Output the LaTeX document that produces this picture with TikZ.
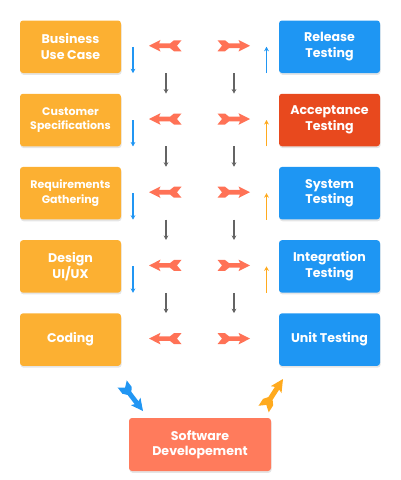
\documentclass[tikz,border=0pt]{standalone}
\usepackage{fontspec}
\setmainfont{Poppins}
\usetikzlibrary{arrows.meta,shadows}
\definecolor{cOrange}{RGB}{252,176,50}
\definecolor{cBlue}{RGB}{30,150,243}
\definecolor{cAccept}{RGB}{232,73,30}
\definecolor{cSoft}{RGB}{255,123,92}
\definecolor{cChev}{RGB}{255,114,86}
\definecolor{cSmallBlue}{RGB}{33,150,243}
\definecolor{cSmallOrange}{RGB}{255,170,30}
\definecolor{cGray}{RGB}{100,100,100}
\begin{document}
\begin{tikzpicture}[x=1pt,y=-1pt,
  box/.style={rounded corners=3pt, minimum width=101pt, minimum height=52.5pt,
    text=white, align=center, inner sep=2pt,
    font=\bfseries\fontsize{12.6}{15.5}\selectfont,
    drop shadow={shadow xshift=0.6pt, shadow yshift=-1.8pt, opacity=0.10, fill=black}},
  lbox/.style={box, fill=cOrange},
  rbox/.style={box, fill=cBlue},
  smallfont/.style={font=\bfseries\fontsize{11}{14.5}\selectfont},
  vbar/.style={line width=1.25pt, -{Stealth[length=4.5pt,width=4.8pt]}},
  grayarrow/.style={vbar, draw=cGray},
  pics/chev/.style={code={
    \fill[pic actions] (0,0) -- (11.5,5.8) -- (10,2.3) -- (21,2.3) -- (25,5.5)
      -- (32.5,5.5) -- (28,0) -- (32.5,-5.5) -- (25,-5.5) -- (21,-2.3)
      -- (10,-2.3) -- (11.5,-5.8) -- cycle;}}
]
\useasboundingbox (0,0) rectangle (400,480);

% left column
\node[lbox] (l1) at (70.5,46.75) {Business\\Use Case};
\node[lbox,smallfont] (l2) at (70.5,120) {Customer\\Specifications};
\node[lbox,smallfont] (l3) at (70.5,193.2) {Requirements\\Gathering};
\node[lbox] (l4) at (70.5,266.4) {Design\\UI/UX};
\node[lbox] (l5) at (70.5,339.6) {Coding};

% right column
\node[rbox] (r1) at (329.5,46.75) {Release\\Testing};
\node[box,fill=cAccept] (r2) at (329.5,120) {Acceptance\\Testing};
\node[rbox] (r3) at (329.5,193.2) {System\\Testing};
\node[rbox] (r4) at (329.5,266.4) {Integration\\Testing};
\node[rbox] (r5) at (329.5,339.6) {Unit Testing};

% bottom
\node[box,fill=cSoft,minimum width=142pt,minimum height=53pt] (sd) at (200,444.5) {Software\\Developement};

% small side arrows
\coordinate (xl) at (133,0);
\coordinate (xr) at (266.5,0);
\foreach \i in {1,2,3,4}{
  \coordinate (lt\i) at (xl |- l\i.center);
  \draw[vbar,draw=cSmallBlue] (lt\i) -- (xl |- l\i.south);
  \coordinate (rt\i) at (xr |- r\i.center);
}
\draw[vbar,draw=cSmallBlue] (xr |- r1.south) -- (rt1);
\foreach \i in {2,3,4}{
  \draw[vbar,draw=cSmallOrange] (xr |- r\i.south) -- (rt\i);
}

% gray arrows between rows
\coordinate (gl) at (166,0);
\coordinate (gr) at (234,0);
\foreach \i/\j in {1/2,2/3,3/4,4/5}{
  \draw[grayarrow] (gl |- l\i.south) -- (gl |- l\j.north);
  \draw[grayarrow] (gr |- r\i.south) -- (gr |- r\j.north);
}

% chevrons
\coordinate (xcl) at (149,0);
\coordinate (xcr) at (250,0);
\foreach \i in {1,...,5}{
  \path (xcl |- l\i.center) ++(0,-1) coordinate (cl\i);
  \path (xcr |- r\i.center) ++(0,-1) coordinate (cr\i);
  \pic[fill=cChev] at (cl\i) {chev};
  \pic[fill=cChev,rotate=180] at (cr\i) {chev};
}

% bottom big arrows
\coordinate (bt) at (143,411);
\coordinate (ot) at (283,379);
\pic[fill=cSmallBlue,rotate=127.6,scale=1.05] at (bt) {chev};
\pic[fill=cSmallOrange,rotate=237.2,scale=1.1] at (ot) {chev};
\end{tikzpicture}
\end{document}
